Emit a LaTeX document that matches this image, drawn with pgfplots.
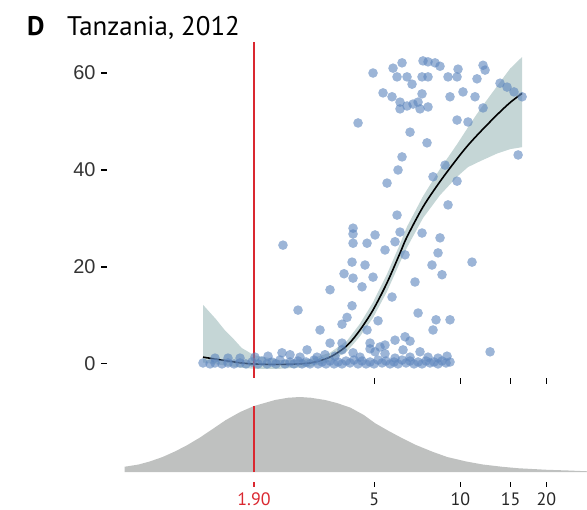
\documentclass[border=0pt]{standalone}
\usepackage{pgfplots}
\pgfplotsset{compat=1.18}
\usepackage{fontspec}
\setmainfont{PT Sans}
\newfontfamily\lsans{Liberation Sans}

\definecolor{ptblue}{RGB}{95,135,190}
\definecolor{bandc}{RGB}{197,214,214}
\definecolor{redc}{RGB}{218,40,48}
\definecolor{densc}{RGB}{191,193,192}

\begin{document}
\begin{tikzpicture}[x=1bp,y=1bp]
\useasboundingbox (0,0) rectangle (587,510);

% title
\node[anchor=base west, inner sep=0pt] at (27,474)
  {\fontsize{27}{27}\selectfont\bfseries D};
\node[anchor=base west, inner sep=0pt] at (67,474)
  {\fontsize{27}{27}\selectfont Tanzania, 2012};

% ---------- upper panel: prevalence vs. x (log scale) ----------
\begin{axis}[
  at={(107bp,132bp)}, anchor=south west,
  scale only axis, width=480bp, height=336bp,
  xmode=log, log basis x=10,
  xmin=0.5817, xmax=27.74, ymin=-2.9, ymax=66.4,
  clip=false,
  axis line style={draw=none},
  tick align=outside, xtick pos=bottom, ytick pos=left,
  major tick length=6bp,
  tick style={black, line width=1.1bp},
  xtick={5,10,15,20}, xticklabels={,,,},
  ytick={0,20,40,60},
  /pgf/number format/assume math mode=true,
  yticklabel style={font=\lsans\fontsize{20}{20}\selectfont, text=black!80, xshift=-2bp},
]
% confidence band
\addplot[fill=bandc, draw=none] coordinates {
 (1.26,12.2) (1.40,9.2) (1.50,7.0) (1.62,5.0) (1.72,3.3) (1.90,1.8)
 (2.34,0.8) (2.98,1.0) (3.50,2.3) (4.02,4.8) (4.46,8.3) (4.95,12.7)
 (5.54,18.5) (6.16,24.8) (6.51,28.3) (7.41,34.6) (8.49,40.2) (9.74,45.3)
 (10.64,48.8) (11.72,52.5) (13.45,57.3) (14.93,60.9) (16.44,63.3)
 (16.44,44.7) (14.93,44.3) (13.45,43.4) (11.72,41.8) (10.64,40.6)
 (9.74,38.6) (8.49,34.8) (7.41,30.1) (6.51,24.0) (6.16,21.0) (5.54,14.9)
 (4.95,9.5) (4.46,5.7) (4.02,2.6) (3.50,0.5) (2.98,-0.6) (2.34,-1.0)
 (1.90,-1.0) (1.72,-0.8) (1.50,-0.3) (1.26,0.3)
};
% observations
\addplot[only marks, mark=*, mark size=4.8bp,
  mark options={draw opacity=0, fill=ptblue, fill opacity=0.62}] coordinates {
 (4.953,60.0) (5.819,61.0) (6.256,62.1) (6.009,59.2) (6.513,59.2)
 (6.780,57.7) (7.349,59.2) (7.408,62.5) (7.712,62.3) (8.159,62.1)
 (8.494,61.4) (7.712,59.2) (9.060,59.2) (9.741,59.2) (9.820,60.8)
 (11.44,58.8) (12.01,61.6) (12.21,60.6) (5.369,55.9) (5.772,55.1)
 (6.156,54.0) (6.156,52.6) (6.513,53.2) (6.835,53.6) (7.118,54.0)
 (7.349,55.7) (7.231,52.6) (7.712,53.0) (9.206,55.1) (10.22,56.1)
 (11.26,55.1) (12.01,52.8) (9.741,50.3) (10.64,49.9) (4.390,49.7)
 (6.672,47.8) (7.650,45.6) (13.77,57.9) (14.57,57.1) (15.41,56.1)
 (16.45,55.1) (15.93,43.1)
 (6.256,42.7) (6.058,40.0) (5.544,37.3) (8.029,38.6) (8.843,41.0)
 (9.741,37.7) (9.060,32.8) (6.009,30.7) (4.217,28.0) (4.217,26.8)
 (5.034,26.6) (6.156,27.2) (7.349,27.0) (8.494,26.0) (8.358,22.9)
 (4.217,24.9) (4.720,24.9) (5.455,23.5) (5.913,25.2) (6.409,22.5)
 (7.964,20.4) (8.632,18.4) (10.99,21.0) (6.945,16.9) (5.772,13.8)
 (4.183,21.0) (4.644,20.4) (3.922,18.6) (4.217,17.7) (4.953,17.9)
 (4.534,15.9) (3.504,15.3) (4.183,12.0) (4.018,9.6) (3.859,8.2)
 (5.157,8.9) (7.118,10.5) (8.225,9.1) (9.206,9.1) (4.720,7.0)
 (8.029,7.0) (6.409,5.6) (6.672,4.7) (4.835,4.3) (5.455,3.9)
 (5.913,4.9) (2.708,11.1) (2.399,24.5) (3.233,7.0) (12.71,2.5)
 (3.504,4.3) (3.859,4.3)
 (1.260,0.2) (1.334,0.0) (1.388,0.2) (1.468,0.0) (1.541,0.2)
 (1.618,0.0) (1.698,0.2) (1.781,0.0) (1.870,0.4) (1.962,0.0)
 (2.026,0.6) (2.110,0.0) (2.196,0.4) (2.268,0.0) (2.342,0.8)
 (2.439,0.0) (2.539,0.4) (2.622,0.0) (2.708,0.6) (2.797,0.0)
 (2.888,0.4) (2.983,0.0) (3.080,0.8) (3.181,0.0) (3.286,0.4)
 (3.392,0.0) (3.504,0.6) (3.619,0.0) (3.737,0.4) (3.859,0.0)
 (3.986,0.6) (4.116,0.2) (4.251,0.8) (4.390,0.0) (4.534,0.6)
 (4.682,0.0) (4.835,0.4) (4.993,0.0) (5.157,0.8) (5.326,0.2)
 (5.499,0.6) (5.680,0.0) (5.866,0.4) (6.058,0.0) (6.256,0.8)
 (6.461,0.2) (6.672,0.6) (6.890,0.0) (7.118,0.4) (7.349,0.0)
 (7.589,0.6) (7.837,0.2) (8.094,0.4) (8.358,0.0) (8.632,0.6)
 (8.915,0.2) (9.206,0.4)
 (2.127,1.6) (2.380,2.3) (2.539,1.9) (2.752,1.4) (2.912,2.9)
 (3.155,1.4) (3.365,1.9) (3.648,1.6) (3.859,2.9) (4.217,2.3)
 (4.461,1.4) (4.835,3.1) (5.034,2.5) (5.241,3.5) (5.455,2.1)
 (5.913,1.2) (6.307,2.9) (6.672,1.4) (7.231,2.5) (7.712,1.4)
 (8.358,1.2) (8.987,1.6) (1.915,1.4) (1.698,1.2) (1.541,1.2)
 (1.388,1.2)
};
% fitted curve
\addplot[black, line width=1.6bp, smooth] coordinates {
 (1.26,1.4) (1.50,0.7) (1.72,0.2) (1.90,0.0) (2.34,-0.1) (2.98,0.2)
 (3.50,1.4) (4.02,3.8) (4.46,7.0) (4.95,11.1) (5.54,16.7) (6.16,22.9)
 (6.51,26.2) (7.41,32.4) (8.49,37.6) (9.74,42.3) (10.64,45.1)
 (11.72,47.8) (13.45,51.4) (14.93,53.9) (16.44,55.8)
};
% threshold
\addplot[redc, line width=1.4bp] coordinates {(1.9,-2.9) (1.9,66.4)};
\end{axis}

% ---------- lower panel: distribution of x ----------
\begin{axis}[
  at={(107bp,28bp)}, anchor=south west,
  scale only axis, width=480bp, height=88.75bp,
  xmode=log, log basis x=10,
  xmin=0.5817, xmax=27.74, ymin=-0.133, ymax=1.05,
  clip=false,
  axis line style={draw=none},
  tick align=outside, xtick pos=bottom, ytick pos=left,
  major tick length=5bp,
  tick style={black, line width=1.1bp},
  ytick=\empty,
  xtick={5,10,15,20}, xticklabels={5,10,15,20},
  extra x ticks={1.9}, extra x tick labels={\textcolor{redc}{1.90}},
  extra x tick style={major tick style={draw=redc, line width=1.1bp}},
  /pgf/number format/assume math mode=true,
  xticklabel style={font=\fontsize{18}{18}\selectfont, text=black!85, yshift=-2bp},
]
\addplot[fill=densc, draw=none] coordinates {
 (0.67,0) (0.67,0.07) (0.75,0.10) (0.82,0.14) (0.91,0.20) (1.0,0.27)
 (1.1,0.35) (1.23,0.46) (1.37,0.58) (1.51,0.69) (1.7,0.80) (1.9,0.88)
 (2.25,0.96) (2.5,0.99) (2.75,1.0) (3.0,0.99) (3.37,0.96) (3.7,0.92)
 (4.12,0.86) (4.6,0.76) (5.04,0.65) (5.6,0.55) (6.2,0.46) (7.0,0.36)
 (8.0,0.27) (9.0,0.20) (10.5,0.14) (12,0.10) (14,0.07) (16,0.05)
 (20,0.03) (24,0.02) (27.7,0.01) (27.7,0)
};
\addplot[redc, line width=1.4bp] coordinates {(1.9,0) (1.9,0.88)};
\end{axis}
\end{tikzpicture}
\end{document}
